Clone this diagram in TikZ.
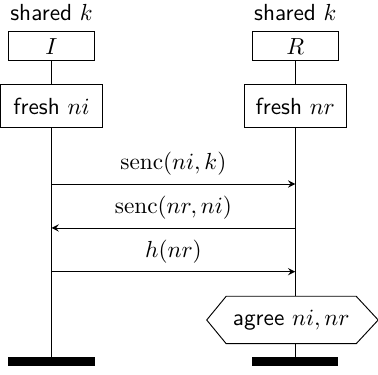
\documentclass[tikz,border=0pt]{standalone}
\usepackage{fontspec}
\usepackage{tikz}
\usetikzlibrary{arrows.meta,calc}

\begin{document}
\begin{tikzpicture}[x=0.43pt, y=-0.43pt, >=stealth,
    inst/.style={draw, minimum width=37pt, minimum height=12.7pt, inner sep=0pt},
    action/.style={draw, minimum width=43.9pt, minimum height=18.5pt, inner sep=0pt, font=\sffamily},
    finbar/.style={fill=black, minimum width=37pt, minimum height=3.65pt, inner sep=0pt}]
    \useasboundingbox (0,0) rectangle (378,375);
    % instance heads
    \node[font=\sffamily] (kI) at (51.5,12.5) {shared $k$};
    \node[font=\sffamily] (kR) at (295.3,12.5) {shared $k$};
    \node[inst] (I) at (51.5,46.2) {$I$};
    \node[inst] (R) at (295.3,46.2) {$R$};
    \node[action] (freshI) at (51.5,106) {fresh $ni$};
    \node[action] (freshR) at (295.3,106) {fresh $nr$};
    \node[finbar] (endI) at (51.5,361.5) {};
    \node[finbar] (endR) at (295.3,361.5) {};
    % claim
    \node[font=\sffamily, minimum width=55.5pt, minimum height=20pt, inner sep=0pt] (agree) at (291.2,320) {agree $ni,nr$};
    \draw (agree.north west) -- (agree.north east) -- ($(agree.east)+(22,0)$) -- (agree.south east)
        -- (agree.south west) -- ($(agree.west)+(-19.5,0)$) -- cycle;
    % lifelines
    \draw (I) -- (freshI);
    \draw (R) -- (freshR);
    \draw (freshI) -- (endI);
    \draw (freshR.south) -- (freshR.south |- agree.north);
    \draw (freshR.south |- agree.south) -- (endR);
    % messages
    \coordinate (m1i) at (51.5,184);   \coordinate (m1r) at (295.3,184);
    \coordinate (m2i) at (51.5,228);   \coordinate (m2r) at (295.3,228);
    \coordinate (m3i) at (51.5,271.7); \coordinate (m3r) at (295.3,271.7);
    \draw[->] (m1i) -- (m1r) node[midway, above] {$\mathrm{senc}(ni,k)$};
    \draw[->] (m2r) -- (m2i) node[midway, above] {$\mathrm{senc}(nr,ni)$};
    \draw[->] (m3i) -- (m3r) node[midway, above] {$h(nr)$};
\end{tikzpicture}
\end{document}
